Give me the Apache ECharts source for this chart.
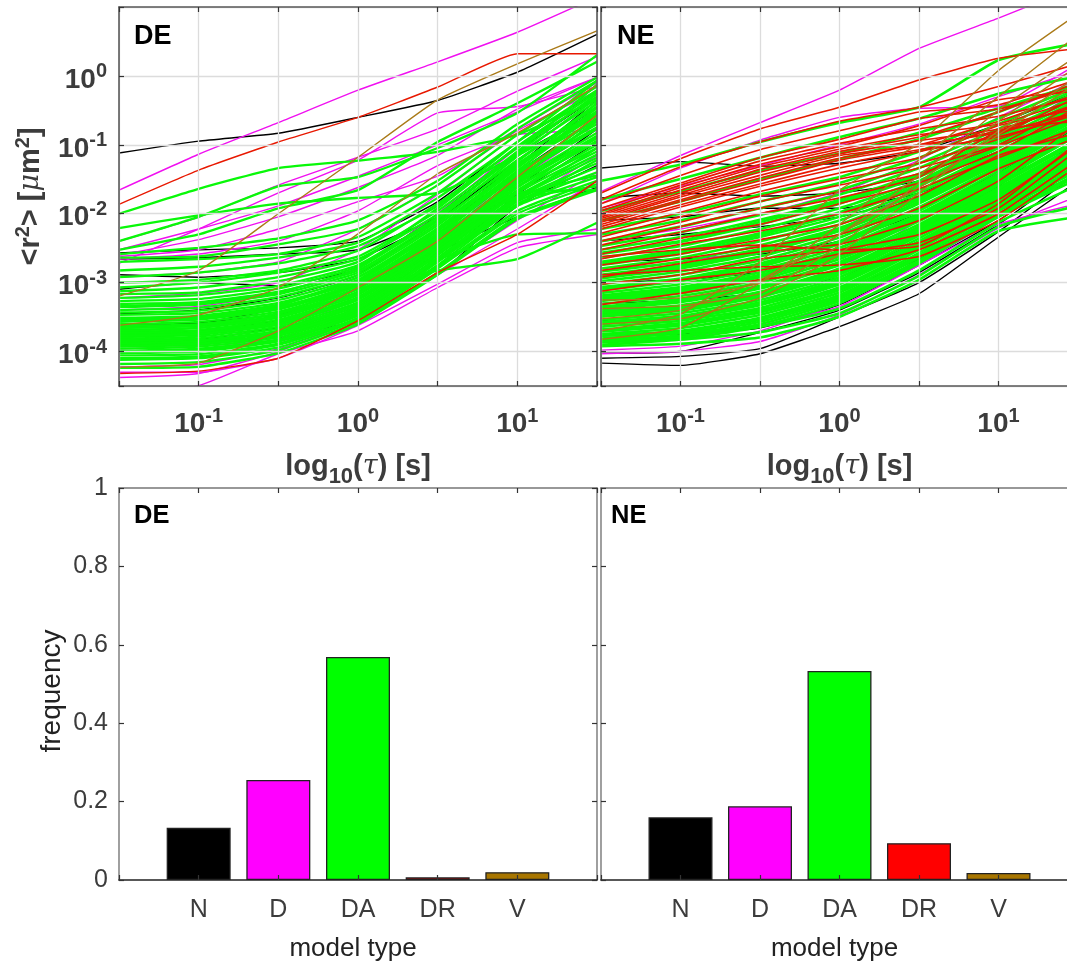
<!DOCTYPE html>
<html><head><meta charset="utf-8">
<style>html,body{margin:0;padding:0;background:#fff;overflow:hidden}#c{width:1067px;height:961px}</style>
<script src="https://cdn.jsdelivr.net/npm/echarts@6/dist/echarts.min.js"></script>
</head><body><div id="c"></div>
<script>
const taus=[0.03162,0.1,0.3162,1,3.162,10,31.62];
const modelTypes=['N','D','DA','DR','V'];
const freqDE=[0.133,0.255,0.569,0.007,0.02];
const freqNE=[0.16,0.188,0.533,0.094,0.018];
const freqTicks=['0','0.2','0.4','0.6','0.8','1'];

const deN=[
[.076,.113,.147,.25,.44,1.13,4],
[2.7e-3,3e-3,3.2e-3,4e-3,1.5e-2,.11,.6],
[2.2e-3,2.3e-3,2.6e-3,3e-3,9e-3,8e-2,.5],
[1.3e-3,1.2e-3,1.4e-3,2.2e-3,8e-3,6e-2,.35],
[8e-4,1e-3,9e-4,1.6e-3,1e-2,7e-2,.3],
[3.5e-4,4e-4,6e-4,1.3e-3,8e-3,5e-2,.45],
[2.2e-4,2.6e-4,4.2e-4,1e-3,6e-3,4e-2,.24],
[1.8e-4,2e-4,2.8e-4,6e-4,3.2e-3,2.4e-2,.17],
[1.2e-4,1.5e-4,2.2e-4,3.5e-4,2.1e-3,1.9e-2,.11],
[1.2e-4,1.3e-4,1.6e-4,2.9e-4,1.3e-3,1.3e-2,5e-2],
[2.5e-4,2.6e-4,3.5e-4,7e-4,2.8e-3,9e-3,2.4e-2]
];
const deD=[
[.022,.073,.21,.62,1.6,4.3,14],
[4e-3,8.9e-3,2.6e-2,.066,.17,.6,1.9],
[1.9e-3,6e-3,2e-2,.06,.29,.36,.7],
[3e-3,6e-3,1.3e-2,3.5e-2,.1,.3,.95],
[2.5e-3,4.2e-3,9e-3,2.4e-2,7e-2,.33,.95],
[2.4e-3,3e-3,6e-3,1.5e-2,3.5e-2,.17,.8],
[2.2e-3,2.6e-3,4e-3,1.1e-2,5e-2,.14,.16],
[1.2e-3,1.4e-3,2e-3,6e-3,2.6e-2,.16,.6],
[6e-4,7e-4,1e-3,3e-3,1.9e-2,.14,.7],
[4e-4,4.5e-4,7e-4,1.6e-3,1e-2,9e-2,.5],
[1.3e-4,1.4e-4,2e-4,6e-4,3.9e-3,4e-2,.35],
[1.1e-4,1.2e-4,1.5e-4,4.5e-4,3.2e-3,3e-2,.18],
[8e-5,8e-5,1.3e-4,3.5e-4,2e-3,1.3e-2,7e-2],
[6e-5,6.5e-5,1.1e-4,2.6e-4,1.4e-3,8e-3,4e-2],
[5e-5,5e-5,8e-5,2.4e-4,9.5e-4,3.8e-3,6e-3],
[2.4e-5,3.2e-5,9.3e-5,2e-4,8.5e-4,3.2e-3,5e-3],
[4.2e-5,4.8e-5,1e-4,3e-4,1.3e-3,6e-3,3e-2]
];
const deDA=[
[1e-2,2.3e-2,4.6e-2,5.9e-2,7.9e-2,.14,.45],
[6.2e-3,9.5e-3,1.4e-2,1.7e-2,2e-2,7e-2,.3],
[4e-3,9e-3,2.5e-2,3.4e-2,.09,.29,2],
[3e-3,5e-3,1.2e-2,2.2e-2,.11,.4,1.6],
[2.6e-3,3.2e-3,4.4e-3,8e-3,3e-2,.2,.95],
[2.3e-3,2.4e-3,3.6e-3,6e-3,2.6e-2,.17,.85],
[2e-3,2.2e-3,2.6e-3,4.6e-3,2e-2,.14,.7],
[1.5e-3,1.7e-3,2.3e-3,3.8e-3,1.7e-2,.11,.85],
[1.2e-3,1.4e-3,1.9e-3,3.4e-3,1.3e-2,.11,.62],
[1e-3,1.1e-3,1.5e-3,2.9e-3,1.4e-2,9e-2,.5],
[8.5e-4,1e-3,1.4e-3,2.4e-3,1.1e-2,8e-2,.75],
[7.5e-4,8.5e-4,1.2e-3,2.2e-3,9.8e-3,7.2e-2,.43],
[6.8e-4,7.2e-4,1.05e-3,2e-3,1.2e-2,9.5e-2,.58],
[6e-4,6.6e-4,9e-4,1.8e-3,9e-3,6e-2,.36],
[5.4e-4,5.8e-4,8.2e-4,1.7e-3,8.3e-3,6.8e-2,.48],
[4.9e-4,5.2e-4,7.4e-4,1.5e-3,7.8e-3,5.3e-2,.29],
[4.4e-4,4.8e-4,6.8e-4,1.4e-3,7.3e-3,5.7e-2,.4],
[4e-4,4.3e-4,6.2e-4,1.3e-3,6.8e-3,4.9e-2,.27],
[3.7e-4,3.9e-4,5.6e-4,1.2e-3,6.2e-3,4.6e-2,.34],
[3.4e-4,3.6e-4,5.1e-4,1.1e-3,6e-3,5.1e-2,.23],
[3.1e-4,3.3e-4,4.8e-4,1.05e-3,5.6e-3,4.2e-2,.31],
[2.9e-4,3.1e-4,4.4e-4,9.5e-4,5.2e-3,4e-2,.2],
[2.7e-4,2.9e-4,4.1e-4,9e-4,4.9e-3,3.6e-2,.25],
[2.5e-4,2.7e-4,3.8e-4,8.4e-4,4.7e-3,3.8e-2,.18],
[2.35e-4,2.5e-4,3.5e-4,8e-4,4.4e-3,3.2e-2,.22],
[2.2e-4,2.35e-4,3.3e-4,7.4e-4,4.2e-3,3e-2,.15],
[2.05e-4,2.2e-4,3.1e-4,7e-4,3.9e-3,3.4e-2,.17],
[1.95e-4,2.05e-4,2.9e-4,6.6e-4,3.8e-3,2.8e-2,.135],
[1.85e-4,1.95e-4,2.75e-4,6.2e-4,3.5e-3,2.7e-2,.125],
[1.75e-4,1.85e-4,2.6e-4,5.9e-4,3.4e-3,2.5e-2,.11],
[1.65e-4,1.75e-4,2.45e-4,5.6e-4,3.2e-3,2.4e-2,.115],
[1.55e-4,1.65e-4,2.3e-4,5.2e-4,3e-3,2.2e-2,.09],
[1.47e-4,1.55e-4,2.15e-4,4.9e-4,2.9e-3,2.1e-2,.1],
[1.4e-4,1.47e-4,2e-4,4.6e-4,2.7e-3,2e-2,.08],
[1.32e-4,1.4e-4,1.9e-4,4.3e-4,2.6e-3,1.8e-2,.072],
[1.25e-4,1.32e-4,1.8e-4,4.1e-4,2.5e-3,1.7e-2,.065],
[1.18e-4,1.25e-4,1.7e-4,3.9e-4,2.3e-3,1.6e-2,.054],
[1.1e-4,1.18e-4,1.6e-4,3.7e-4,2.1e-3,1.5e-2,.047],
[1.02e-4,1.1e-4,1.5e-4,3.5e-4,2e-3,1.4e-2,.04],
[9.5e-5,1e-4,1.4e-4,3.3e-4,1.8e-3,1.3e-2,.034],
[8.8e-5,9.2e-5,1.3e-4,3.1e-4,1.7e-3,1.1e-2,.03],
[7.6e-5,8e-5,1.15e-4,2.9e-4,1.6e-3,1e-2,.027],
[6.6e-5,7e-5,1.05e-4,2.7e-4,1.4e-3,9e-3,.023],
[5.8e-5,6e-5,9.5e-5,2.5e-4,1.3e-3,8.4e-3,.022],
[1.6e-4,1.9e-4,3.2e-4,8e-4,1.5e-3,2.2e-3,7.4e-3],
[2.2e-4,2.4e-4,3.6e-4,9e-4,2.2e-3,5e-3,5.2e-3],
[3e-4,3.2e-4,4.6e-4,1.2e-3,5e-3,2e-2,2.2e-2],
[2e-4,2.2e-4,3.2e-4,7e-4,3.9e-3,1.8e-2,3.6e-2],
[1.3e-4,1.4e-4,2e-4,5e-4,2.9e-3,1.6e-2,2.5e-2],
[4.6e-4,5e-4,7.2e-4,1.6e-3,9e-3,7.6e-2,.55],
[2.8e-4,3e-4,4.3e-4,1e-3,6e-3,4.7e-2,.4],
[1.7e-4,1.8e-4,2.5e-4,6e-4,3.6e-3,3e-2,.23],
[1.2e-4,1.3e-4,1.75e-4,4.2e-4,2.6e-3,2.1e-2,.13],
[1e-4,1.05e-4,1.45e-4,3.6e-4,2.2e-3,1.6e-2,.09],
[8e-5,8.5e-5,1.25e-4,3e-4,2e-3,1.3e-2,.06]
];
const deDR=[
[.0137,.043,.11,.25,.69,2.1,2.1],
[4.8e-5,5.2e-5,8e-5,2.8e-4,1.4e-3,5e-3,3e-2]
];
const deV=[
[6.4e-4,1.5e-3,1e-2,6.6e-2,.45,1.5,4.5],
[2.4e-4,3.4e-4,8.5e-4,5.1e-3,3.8e-2,.148,.73],
[5.9e-5,6.8e-5,2e-4,8.5e-4,4e-3,3.4e-2,.27]
];

const neN=[
[.046,.057,.049,.054,.08,.2,.6],
[.017,.02,.018,.02,.03,.08,.3],
[8e-3,9e-3,1.2e-2,1.2e-2,2e-2,6e-2,.3],
[4e-3,5e-3,6.5e-3,9e-3,1.8e-2,6e-2,.25],
[2e-3,2.2e-3,2.6e-3,4e-3,1e-2,4e-2,.2],
[1e-3,1.1e-3,1.4e-3,2.4e-3,6e-3,2.5e-2,.2],
[5e-4,5.5e-4,7e-4,1.2e-3,4e-3,1.6e-2,.12],
[2.8e-4,3e-4,4e-4,8e-4,2.2e-3,1.2e-2,.08],
[1.7e-4,1.8e-4,2.2e-4,4.8e-4,1.8e-3,8e-3,.05],
[9.5e-5,1e-4,1.9e-4,4e-4,1.4e-3,7e-3,5e-2],
[8e-5,8.5e-5,1.1e-4,3.2e-4,1e-3,5.5e-3,4e-2],
[6.8e-5,6.3e-5,9.3e-5,2.3e-4,6.9e-4,4.6e-3,3e-2]
];
const neD=[
[.021,.07,.21,.62,2.5,6.9,20],
[.014,.046,.117,.25,.34,.36,1.5],
[1.2e-2,2.5e-2,5e-2,.1,.2,.5,1.2],
[4e-3,6e-3,1e-2,2e-2,6e-2,.25,.9],
[1.5e-3,2e-3,3e-3,6e-3,2.4e-2,.12,.6],
[4e-4,4.5e-4,6e-4,1.6e-3,8e-3,4e-2,.3],
[2.2e-4,1.6e-4,2.4e-4,4.5e-4,1.8e-3,9e-3,.06],
[1.05e-4,1.2e-4,2e-4,5e-4,1.8e-3,7e-3,1.4e-2],
[9.3e-5,1e-4,1.4e-4,3.4e-4,1.3e-3,6.2e-3,1.8e-2]
];
const neDA=[
[.03,.052,.11,.21,.35,1.7,3],
[1.6e-2,3.2e-2,6.5e-2,.13,.24,.55,1],
[1.1e-2,2.1e-2,4.2e-2,7.5e-2,.15,.34,.75],
[8e-3,1.5e-2,3.2e-2,6.2e-2,.12,.3,.8],
[6e-3,1e-2,1.9e-2,3.4e-2,8e-2,.24,.7],
[5e-3,8e-3,1.5e-2,2.8e-2,6.5e-2,.2,.65],
[4e-3,6.5e-3,1.2e-2,2.2e-2,5.4e-2,.17,.6],
[3.4e-3,5.4e-3,9.6e-3,1.9e-2,4.6e-2,.15,.5],
[3e-3,4.6e-3,8.2e-3,1.6e-2,3.8e-2,.13,.55],
[2.6e-3,3.9e-3,7e-3,1.4e-2,3.4e-2,.12,.45],
[2.3e-3,3.4e-3,6e-3,1.2e-2,3e-2,.11,.4],
[2e-3,3e-3,5.2e-3,1.05e-2,2.8e-2,.1,.42],
[1.8e-3,2.6e-3,4.6e-3,9e-3,2.5e-2,.09,.36],
[1.6e-3,2.3e-3,4e-3,8e-3,2.2e-2,8e-2,.33],
[1.45e-3,2e-3,3.5e-3,7e-3,2e-2,7.5e-2,.3],
[1.3e-3,1.8e-3,3.1e-3,6.2e-3,1.8e-2,7e-2,.32],
[1.15e-3,1.6e-3,2.7e-3,5.6e-3,1.6e-2,6.2e-2,.27],
[1.05e-3,1.45e-3,2.4e-3,5e-3,1.5e-2,5.8e-2,.25],
[9.5e-4,1.3e-3,2.1e-3,4.5e-3,1.4e-2,5.4e-2,.24],
[8.6e-4,1.15e-3,1.9e-3,4e-3,1.25e-2,5e-2,.22],
[7.8e-4,1.05e-3,1.7e-3,3.6e-3,1.1e-2,4.6e-2,.2],
[7.1e-4,9.5e-4,1.55e-3,3.2e-3,1e-2,4.2e-2,.19],
[6.5e-4,8.6e-4,1.4e-3,2.9e-3,9.5e-3,3.8e-2,.17],
[5.9e-4,7.8e-4,1.25e-3,2.6e-3,8.6e-3,3.5e-2,.16],
[5.4e-4,7e-4,1.1e-3,2.4e-3,7.8e-3,3.2e-2,.15],
[4.9e-4,6.4e-4,1e-3,2.2e-3,7e-3,3e-2,.14],
[4.5e-4,5.8e-4,9e-4,2e-3,6.5e-3,2.8e-2,.12],
[4.1e-4,5.2e-4,8.2e-4,1.8e-3,6e-3,2.6e-2,.11],
[3.8e-4,4.7e-4,7.4e-4,1.6e-3,5.6e-3,2.4e-2,.1],
[3.5e-4,4.3e-4,6.8e-4,1.45e-3,5.2e-3,2.2e-2,.095],
[3.2e-4,3.9e-4,6.2e-4,1.3e-3,4.8e-3,2e-2,.085],
[2.9e-4,3.6e-4,5.6e-4,1.2e-3,4.4e-3,1.9e-2,.08],
[2.7e-4,3.3e-4,5.2e-4,1.1e-3,4e-3,1.8e-2,.075],
[2.5e-4,3e-4,4.7e-4,1e-3,3.7e-3,1.7e-2,.07],
[2.3e-4,2.8e-4,4.3e-4,9.5e-4,3.4e-3,1.6e-2,.065],
[2.1e-4,2.6e-4,4e-4,8.6e-4,3.2e-3,1.5e-2,.06],
[1.95e-4,2.4e-4,3.7e-4,7.8e-4,3e-3,1.4e-2,.055],
[1.8e-4,2.2e-4,3.4e-4,7.2e-4,2.7e-3,1.3e-2,.05],
[1.7e-4,2e-4,3.1e-4,6.6e-4,2.5e-3,1.2e-2,.046],
[1.55e-4,1.85e-4,2.9e-4,6.2e-4,2.3e-3,1.1e-2,.042],
[1.45e-4,1.7e-4,2.7e-4,5.8e-4,2.1e-3,1e-2,.038],
[1.35e-4,1.6e-4,2.5e-4,5.4e-4,2e-3,9.5e-3,.035],
[2.7e-3,4e-3,7.6e-3,1.5e-2,3.6e-2,.14,.48],
[1.9e-3,2.8e-3,4.9e-3,1e-2,2.6e-2,9.5e-2,.38],
[1.25e-3,1.7e-3,2.9e-3,5.9e-3,1.7e-2,6.6e-2,.28],
[8.2e-4,1.1e-3,1.8e-3,3.8e-3,1.15e-2,4.8e-2,.21],
[6.2e-4,8.2e-4,1.3e-3,2.75e-3,9e-3,3.6e-2,.16],
[4.3e-4,5.5e-4,8.6e-4,1.9e-3,6.2e-3,2.7e-2,.12],
[3.4e-4,4.1e-4,6.5e-4,1.4e-3,5e-3,2.1e-2,.09],
[2.6e-4,3.2e-4,5e-4,1.05e-3,3.9e-3,1.75e-2,.072],
[2e-4,2.5e-4,3.9e-4,8.2e-4,3.1e-3,1.45e-2,.058],
[1.5e-4,1.9e-4,3e-4,6.4e-4,2.4e-3,1.15e-2,.044],
[1.25e-4,1.5e-4,2.3e-4,5e-4,1.9e-3,9e-3,.032],
[3.7e-4,4.5e-4,7e-4,1.5e-3,5.4e-3,2.3e-2,.098],
[5.6e-4,7.4e-4,1.2e-3,2.5e-3,8.2e-3,3.4e-2,.155],
[1.2e-3,1.65e-3,2.8e-3,5.8e-3,1.7e-2,6.5e-2,.29],
[1.7e-4,1.9e-4,2.3e-4,4.2e-4,1.5e-3,7.5e-3,.026],
[1.4e-4,1.5e-4,1.9e-4,3.6e-4,1.25e-3,6.5e-3,.013],
[1.2e-4,1.3e-4,1.6e-4,3.2e-4,1.1e-3,5.6e-3,9e-3]
];
const neDR=[
[2e-2,6.3e-2,.17,.35,.87,1.8,2.5],
[1.6e-2,4.8e-2,.11,.22,.35,.7,1.5],
[1.4e-2,3.6e-2,8.5e-2,.16,.3,.38,.9],
[1.2e-2,2.8e-2,6.5e-2,.12,.24,.33,.7],
[1.1e-2,2.6e-2,5.8e-2,.105,.17,.26,.5],
[1e-2,2.4e-2,5.2e-2,9.5e-2,.19,.45,.6],
[9.5e-3,2.2e-2,4.8e-2,8.6e-2,.14,.2,.46],
[9e-3,2e-2,4.4e-2,8e-2,.13,.3,.8],
[8.5e-3,1.85e-2,4e-2,7.4e-2,.115,.17,.37],
[8e-3,1.75e-2,3.6e-2,7e-2,.1,.22,.55],
[7.5e-3,1.6e-2,3.3e-2,6.4e-2,.1,.15,.3],
[7e-3,1.5e-2,3e-2,6e-2,.095,.16,.4],
[6.5e-3,1.35e-2,2.7e-2,5.2e-2,.085,.13,.28],
[6e-3,1.25e-2,2.5e-2,4.6e-2,8e-2,.14,.5],
[5.2e-3,1.05e-2,2.1e-2,3.9e-2,6.5e-2,.19,.33],
[4.6e-3,9e-3,1.8e-2,3.2e-2,5.4e-2,.12,.3],
[4e-3,7.5e-3,1.5e-2,2.6e-2,4.6e-2,.1,.42],
[3.5e-3,6.5e-3,1.2e-2,2.1e-2,3.8e-2,.095,.26],
[3e-3,5.4e-3,1e-2,1.7e-2,3.4e-2,.16,.22],
[2.6e-3,4.4e-3,7e-3,1.4e-2,2.8e-2,8e-2,.36],
[2.2e-3,3.6e-3,5.6e-3,1e-2,2.3e-2,6.5e-2,.18],
[1.8e-3,2.6e-3,4.2e-3,7e-3,1.8e-2,7e-2,.15],
[1.5e-3,2.2e-3,3.3e-3,5e-3,1.2e-2,4.5e-2,.13],
[1.2e-3,1.9e-3,2.8e-3,3.6e-3,8e-3,3e-2,.21],
[9.5e-4,1.3e-3,2.2e-3,3e-3,5e-3,1.6e-2,.1],
[7.5e-4,1.1e-3,1.5e-3,2.6e-3,3.8e-3,1.2e-2,.085],
[4.8e-4,7e-4,1.1e-3,1.5e-3,3e-3,1e-2,.06],
[2.4e-3,3e-3,3.5e-3,3e-3,3.4e-3,1.4e-2,.11],
[1.3e-3,1.5e-3,1.7e-3,1.8e-3,2.4e-3,8e-3,.05]
];
const neV=[
[2e-4,3.5e-4,2e-3,2.2e-2,.105,1.2,8],
[1.5e-4,2.2e-4,1e-3,7e-3,6e-2,.5,4],
[3e-4,4e-4,1.1e-3,5e-3,3.6e-2,.32,2],
[4.2e-4,4.6e-4,7e-4,3.5e-3,2.8e-2,.22,1.4],
[2.5e-4,3e-4,6e-4,2.6e-3,2e-2,.16,1],
[5.6e-4,6e-4,1e-3,5e-3,2.4e-2,.14,.8]
];

const sqrt10=Math.sqrt(10);
const xMin=Math.pow(10,-1.5),xMax=Math.pow(10,1.5),yMin=Math.pow(10,-4.5),yMax=10;
const ink='#3c3c3c',axisGrey='#5a5a5a',gridGrey='#dcdcdc',font='Liberation Sans';
const lineColors={N:'#000000',D:'#f010f0',DA:'#08f808',DR:'#e81800',V:'#aa7a18'};
const barColors=['#000000','#ff00ff','#00ff00','#ff0000','#a87600'];

const powRich={b:{fontFamily:font,fontWeight:'bold',fontSize:28,color:ink},
  s:{fontFamily:font,fontWeight:'bold',fontSize:20,color:ink,padding:[0,0,16,0]}};
const titleRich={b:{fontFamily:font,fontWeight:'bold',fontSize:29,color:ink},
  i:{fontFamily:'DejaVu Serif',fontStyle:'italic',fontSize:27,color:ink},
  s:{fontFamily:font,fontWeight:'bold',fontSize:20,color:ink,padding:[0,0,16,0]},
  d:{fontFamily:font,fontWeight:'bold',fontSize:22,color:ink,padding:[20,0,0,0]}};

function xLab(v){const e=Math.log10(v),r=Math.round(e);return Math.abs(e-r)>1e-3?'':`{b|10}{s|${r}}`;}
function yLab(v){const e=Math.log10(v),r=Math.round(e);return (Math.abs(e-r)>1e-3||r>0)?'':`{b|10}{s|${r}}`;}

const grids=[{left:119,top:7,width:478,height:379,outerBoundsMode:'none'},{left:601,top:7,width:477,height:379,outerBoundsMode:'none'},
             {left:119,top:488,width:478,height:392,outerBoundsMode:'none'},{left:601,top:488,width:477,height:392,outerBoundsMode:'none'}];
const xAxes=[],yAxes=[],series=[];
const axLine={show:true,onZero:false,lineStyle:{color:axisGrey,width:1.6}};
const tick={show:true,inside:true,length:5,lineStyle:{color:'#333',width:1.2}};
const gridLine={show:true,lineStyle:{color:gridGrey,width:1.3}};

[0,1].forEach(g=>{
  const base={type:'log',logBase:sqrt10,min:xMin,max:xMax,gridIndex:g,axisLine:axLine,axisTick:tick,z:10};
  xAxes.push({...base,position:'bottom',splitLine:gridLine,
    axisLabel:{formatter:xLab,rich:powRich,margin:20,hideOverlap:false,showMinLabel:true,showMaxLabel:true},
    name:'{b|log}{d|10}{b|(}{i|τ}{b|) [s]}',nameLocation:'middle',nameGap:60,nameTextStyle:{rich:titleRich}});
  xAxes.push({...base,position:'top',splitLine:{show:false},axisLabel:{show:false}});
  const yb={type:'log',logBase:10,min:yMin,max:yMax,gridIndex:g,axisLine:axLine,axisTick:tick,z:10};
  const y={...yb,position:'left',splitLine:gridLine,
    axisLabel:{show:g===0,formatter:yLab,rich:powRich,margin:12,padding:[8,0,0,0],hideOverlap:false}};
  if(g===0){y.name='{b|<r}{s|2}{b|> [}{i|μ}{b|m}{s|2}{b|]}';y.nameLocation='middle';y.nameGap=70;y.nameRotate=90;y.nameTextStyle={rich:titleRich};}
  yAxes.push(y);
  yAxes.push({...yb,position:'right',splitLine:{show:false},axisLabel:{show:false}});
});
[2,3].forEach(g=>{
  const cats=['',...modelTypes,''];
  const base={type:'category',data:cats,boundaryGap:false,gridIndex:g,axisTick:{...tick,alignWithLabel:true,interval:0},z:10};
  xAxes.push({...base,position:'bottom',axisLine:{show:true,onZero:false,lineStyle:{color:'#222',width:1.6}},
    axisLabel:{interval:0,margin:18,fontFamily:font,fontSize:25,color:ink},
    name:'model type',nameLocation:'middle',nameGap:56,nameTextStyle:{fontFamily:font,fontSize:26,color:'#222',padding:[0,10,0,0]}});
  xAxes.push({...base,position:'top',axisLine:{show:true,onZero:false,lineStyle:{color:'#777',width:1.6}},axisLabel:{show:false}});
  const yb={type:'value',min:0,max:1,interval:0.2,gridIndex:g,splitLine:{show:false},axisTick:tick,axisLine:{show:true,onZero:false,lineStyle:{color:'#888',width:1.6}},z:10};
  const y={...yb,position:'left',axisLabel:{show:g===2,margin:11,fontFamily:font,fontSize:25,color:ink,
     formatter:v=>freqTicks[Math.round(v*5)]}};
  if(g===2){y.name='frequency';y.nameLocation='middle';y.nameGap=53;y.nameRotate=90;y.nameTextStyle={fontFamily:font,fontSize:28,color:'#222',padding:[0,14,0,0]};}
  yAxes.push(y);
  yAxes.push({...yb,position:'right',axisLabel:{show:false}});
});

function addLines(sets,g){
  sets.forEach(([k,arr,w])=>arr.forEach(vals=>series.push({
    type:'line',xAxisIndex:g*2,yAxisIndex:g*2,silent:true,showSymbol:false,symbol:'none',smooth:0.15,clip:true,
    lineStyle:{color:lineColors[k],width:w},animation:false,
    data:vals.map((v,i)=>[taus[i],v])})));
}
addLines([['N',deN,1.4],['D',deD,1.4],['DA',deDA,2.3],['DR',deDR,1.4],['V',deV,1.4]],0);
addLines([['N',neN,1.4],['D',neD,1.4],['DA',neDA,2.6],['DR',neDR,1.6],['V',neV,1.4]],1);
[[2,freqDE],[3,freqNE]].forEach(([g,vals])=>series.push({
  type:'bar',xAxisIndex:g*2,yAxisIndex:g*2,barWidth:64,silent:true,animation:false,
  data:['-',...vals.map((v,i)=>({value:v,itemStyle:{color:barColors[i],borderColor:'#222',borderWidth:1.3}})),'-']}));

const labelSets=[['DE',134,23,27],['NE',617,23,27],['DE',134,503,25.5],['NE',611,503,25.5]];
const chart=echarts.init(document.getElementById('c'),null,{renderer:'canvas'});
chart.setOption({animation:false,backgroundColor:'#fff',
  title:labelSets.map(([t,l,tp,fs])=>({text:t,left:l,top:tp,padding:0,textStyle:{fontFamily:font,fontWeight:'bold',fontSize:fs,color:'#000'}})),
  grid:grids,xAxis:xAxes,yAxis:yAxes,series});
</script></body></html>
